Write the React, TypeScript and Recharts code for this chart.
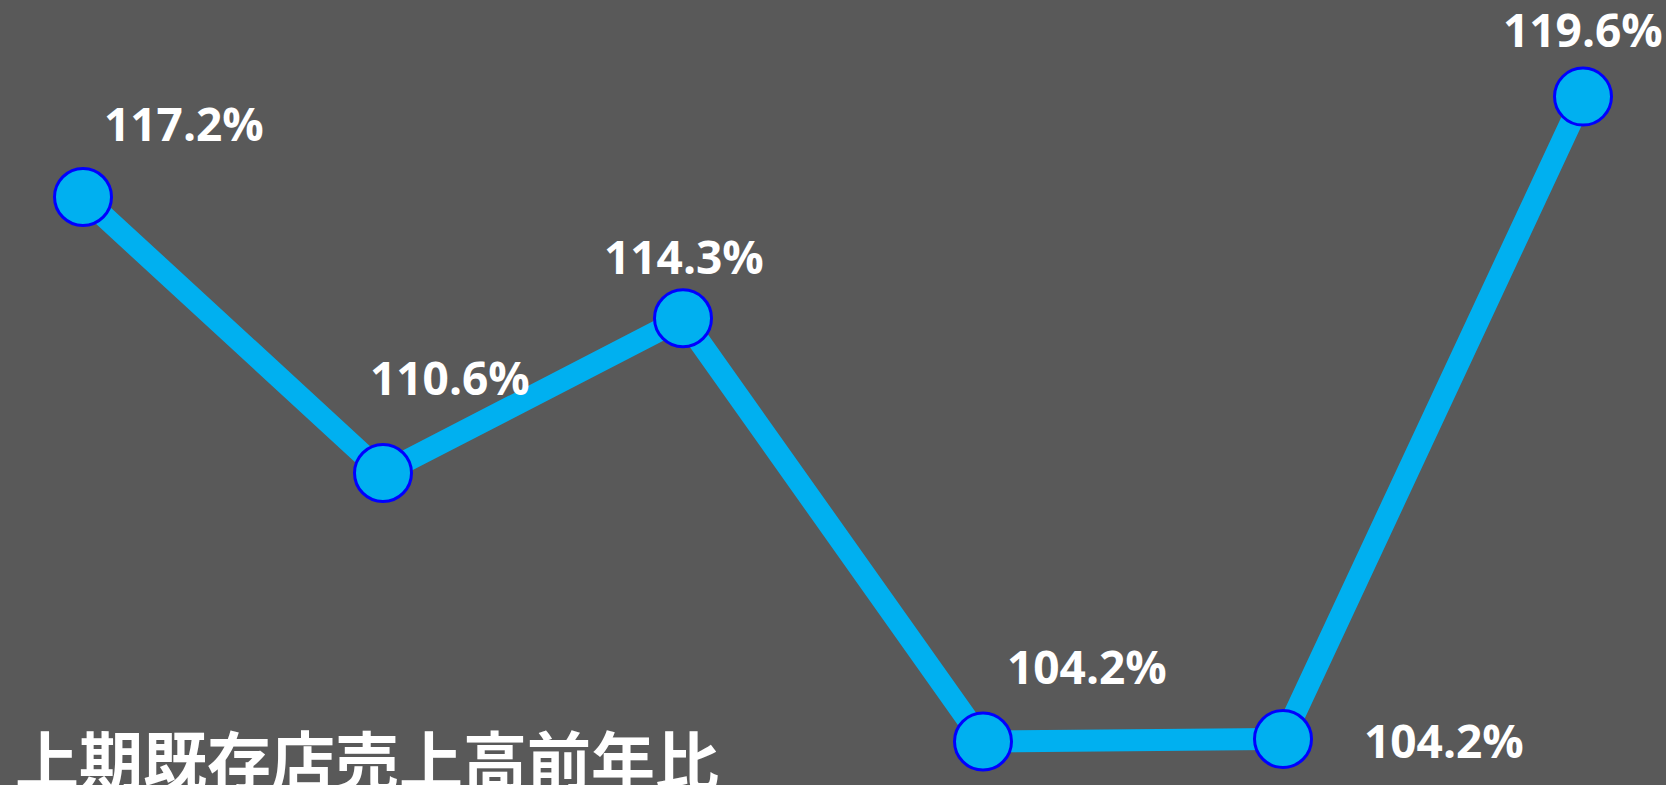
import React from "react";
import { LineChart, Line, XAxis, YAxis, LabelList } from "recharts";

const categories = ["P1", "P2", "P3", "P4", "P5", "P6"];
const ratioValues = [117.2, 110.6, 114.3, 104.18, 104.24, 119.6];
const title = "上期既存店売上高前年比";

const data = categories.map((c, i) => ({ name: c, value: ratioValues[i] }));

// label placement relative to the point: [dx to text left, dy to baseline]
const labelOffsets: [number, number][] = [
  [21, -56],
  [-13, -78],
  [-79, -44],
  [24, -58],
  [81, 19],
  [-80, -50],
];

const renderLabel = (props: any) => {
  const { x, y, value, index } = props;
  const off = labelOffsets[index] || [0, -40];
  return (
    <text
      x={x + off[0]}
      y={y + off[1]}
      fill="#FFFFFF"
      fontFamily="'Open Sans', sans-serif"
      fontWeight={700}
      fontSize={46}
      textAnchor="start"
    >
      {Number(value).toFixed(1) + "%"}
    </text>
  );
};

export default function App() {
  return (
    <div
      style={{
        position: "absolute",
        left: 0,
        top: 0,
        width: 1666,
        height: 785,
        background: "#595959",
        overflow: "hidden",
      }}
    >
      <LineChart
        width={1666}
        height={785}
        data={data}
        margin={{ top: 0, right: 0, bottom: 0, left: 0 }}
      >
        <XAxis dataKey="name" hide padding={{ left: 83, right: 83 }} />
        <YAxis hide domain={[103.14, 121.91]} allowDataOverflow />
        <Line
          type="linear"
          dataKey="value"
          stroke="#00B0F0"
          strokeWidth={22}
          isAnimationActive={false}
          dot={{ r: 28.5, fill: "#00B0F0", stroke: "#0000FF", strokeWidth: 3 }}
          activeDot={false}
        >
          <LabelList dataKey="value" content={renderLabel} />
        </Line>
        <text
          x={15}
          y={785}
          fill="#FFFFFF"
          fontFamily="'Noto Sans CJK JP', sans-serif"
          fontWeight={700}
          fontSize={64}
        >
          {title}
        </text>
      </LineChart>
    </div>
  );
}
